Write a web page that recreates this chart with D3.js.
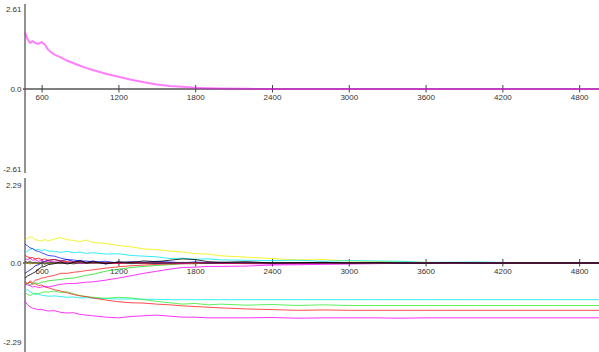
<!DOCTYPE html>
<html>
<head>
<meta charset="utf-8">
<script src="https://cdn.jsdelivr.net/npm/d3@7"></script>
<style>
  html, body { margin: 0; padding: 0; background: #fff; }
  svg { display: block; }
  .tick text { font-family: "Liberation Sans", Arial, sans-serif; font-size: 8px; fill: #333; }
</style>
</head>
<body>
<svg id="chart" width="599" height="352"></svg>
<script>
// Sample positions (iteration) shared by every trace
const steps = [470, 490, 510, 530, 550, 575, 600, 625, 650, 700, 750, 800, 850, 900, 950, 1000,
  1100, 1200, 1300, 1400, 1500, 1600, 1700, 1800, 1900, 2000, 2200, 2400, 2600, 2800, 3000,
  3200, 3400, 3600, 3800, 4000, 4300, 4600, 4955];

// X tick labels
const xTicks = [600, 1200, 1800, 2400, 3000, 3600, 4200, 4800];

// Upper panel: single decaying trace
const upperLimit = 2.61;
const upperTickLabels = ["-2.61", "0.0", "2.61"];
const upperTrace = [1.84, 1.62, 1.5, 1.56, 1.5, 1.47, 1.53, 1.45, 1.28, 1.12, 1.03, 0.92, 0.84, 0.76,
  0.68, 0.62, 0.5, 0.4, 0.3, 0.22, 0.15, 0.1, 0.07, 0.04, 0.025, 0.015, 0.005, 0, 0, 0, 0,
  0, 0, 0, 0, 0, 0, 0, 0];

// Lower panel: traces and their colours
const lowerLimit = 2.29;
const lowerTickLabels = ["-2.29", "0.0", "2.29"];

const yellowA = [0.66, 0.72, 0.76, 0.74, 0.68, 0.66, 0.64, 0.69, 0.64, 0.7, 0.74, 0.68, 0.66, 0.62, 0.67, 0.6,
  0.57, 0.51, 0.47, 0.41, 0.39, 0.35, 0.32, 0.27, 0.26, 0.21, 0.17, 0.13, 0.09, 0.1, 0.06,
  0.05, 0.03, 0.02, 0.01, 0.01, 0, 0, 0];
const cyanA = [0.3, 0.35, 0.4, 0.42, 0.38, 0.4, 0.36, 0.39, 0.35, 0.34, 0.31, 0.34, 0.3, 0.32, 0.28, 0.3,
  0.26, 0.27, 0.22, 0.2, 0.18, 0.13, 0.14, 0.11, 0.12, 0.09, 0.08, 0.07, 0.08, 0.05, 0.07,
  0.06, 0.05, 0.02, 0.02, 0.03, 0.01, 0, 0];
const blueA = [0.55, 0.5, 0.44, 0.42, 0.36, 0.34, 0.3, 0.26, 0.22, 0.2, 0.14, 0.1, 0.09, 0.05, 0.06, 0.03,
  0.05, 0, 0.04, 0.02, 0.05, 0.03, 0.01, 0.03, 0.01, 0.02, 0, 0.01, 0, 0.01, 0,
  0.01, 0, 0, 0, 0, 0, 0, 0];
const blueB = [-0.3, -0.25, -0.2, -0.15, -0.08, -0.05, 0, 0.05, 0.08, 0.1, 0.06, 0.1, 0.04, 0.08, 0.02, 0.06,
  -0.03, 0.03, 0, 0.02, -0.02, 0.01, 0, 0.02, -0.01, 0, 0.01, -0.01, 0, 0, 0.01,
  0, 0, -0.01, 0, 0, 0, 0, 0];
const redA = [0.22, 0.18, 0.15, 0.16, 0.12, 0.14, 0.1, 0.12, 0.08, 0.1, 0.06, 0.04, 0.02, 0.05, 0, 0.02,
  0.01, -0.01, 0.02, 0, 0.01, -0.01, 0, 0.01, 0, 0, -0.01, 0, 0, 0, 0,
  0, 0, 0, 0, 0, 0, 0, 0];
const magentaA = [0.12, 0.1, 0.14, 0.08, 0.1, 0.05, 0.08, 0.03, 0.06, 0.02, 0.04, 0, 0.03, -0.02, 0.02, 0,
  0.02, -0.02, 0.01, -0.01, 0.02, 0, -0.02, 0.01, 0, -0.01, -0.02, -0.03, -0.02, -0.01, -0.01,
  0, -0.01, 0, 0, 0, 0, 0, 0];
const blackA = [-0.44, -0.38, -0.34, -0.3, -0.26, -0.18, -0.12, -0.1, -0.05, -0.02, 0.03, -0.03, 0.02, 0.06, 0, 0.04,
  -0.02, 0.03, 0.02, 0.06, 0.04, 0.08, 0.12, 0.1, 0.04, 0.02, 0.04, 0, 0.01, 0.02, 0,
  0.01, 0, 0, 0.01, 0, 0, 0, 0];
const blackB = [0.05, 0.02, 0.06, 0, 0.03, -0.02, 0.02, -0.04, 0, 0.03, -0.02, 0.01, -0.03, 0.02, -0.01, 0.01,
  0, 0.02, -0.02, 0, 0.01, -0.01, 0.02, 0, -0.01, 0.01, 0, 0, 0.01, 0, 0,
  0, 0, 0, 0, 0, 0, 0, 0];
const yellowB = [-0.02, 0, -0.03, 0.01, -0.02, 0, -0.01, 0.01, -0.02, 0, 0.01, -0.01, 0, 0.01, 0, 0,
  0, 0, 0, 0, 0, 0, 0, 0, 0, 0, 0, 0, 0, 0, 0,
  0, 0, 0, 0, 0, 0, 0, 0];
const redB = [-0.55, -0.6, -0.52, -0.58, -0.5, -0.48, -0.44, -0.42, -0.4, -0.36, -0.3, -0.3, -0.27, -0.25, -0.22, -0.2,
  -0.15, -0.11, -0.08, -0.06, -0.04, -0.03, -0.02, -0.02, 0, -0.01, 0, -0.01, 0, 0, -0.01,
  0, 0, 0, 0, 0, 0, 0, 0];
const greenA = [-0.62, -0.6, -0.64, -0.6, -0.58, -0.6, -0.56, -0.55, -0.52, -0.5, -0.48, -0.45, -0.44, -0.4, -0.36, -0.33,
  -0.24, -0.18, -0.13, -0.1, -0.07, -0.05, -0.02, -0.02, 0, 0.01, 0, 0.02, 0.01, 0, 0.01,
  0, 0, 0, 0, 0, 0, 0, 0];
const magentaB = [-0.62, -0.64, -0.66, -0.7, -0.68, -0.72, -0.7, -0.68, -0.7, -0.66, -0.62, -0.6, -0.6, -0.58, -0.56, -0.55,
  -0.5, -0.44, -0.37, -0.3, -0.24, -0.18, -0.13, -0.12, -0.1, -0.1, -0.09, -0.06, -0.05, -0.04, -0.03,
  -0.02, -0.01, 0, 0, 0, 0, 0, 0];
const cyanB = [-0.8, -0.78, -0.84, -0.88, -0.92, -0.9, -0.94, -0.95, -0.97, -0.96, -0.98, -1.0, -0.99, -1.02, -1.01, -1.03,
  -1.04, -1.05, -1.05, -1.06, -1.06, -1.07, -1.07, -1.07, -1.07, -1.07, -1.07, -1.07, -1.07, -1.07, -1.07,
  -1.07, -1.07, -1.07, -1.07, -1.07, -1.07, -1.07, -1.07];
const greenB = [-0.85, -0.92, -0.95, -0.9, -0.88, -0.9, -0.86, -0.84, -0.85, -0.82, -0.86, -0.84, -0.9, -0.95, -0.98, -1.0,
  -1.03, -1.0, -1.02, -1.07, -1.12, -1.16, -1.2, -1.18, -1.22, -1.2, -1.23, -1.21, -1.24, -1.22, -1.24,
  -1.24, -1.24, -1.24, -1.24, -1.24, -1.24, -1.24, -1.24];
const redC = [-0.58, -0.6, -0.56, -0.62, -0.6, -0.66, -0.64, -0.7, -0.72, -0.78, -0.82, -0.87, -0.92, -0.96, -0.98, -1.02,
  -1.08, -1.13, -1.16, -1.17, -1.2, -1.22, -1.25, -1.27, -1.29, -1.31, -1.34, -1.36, -1.38, -1.37, -1.38,
  -1.38, -1.38, -1.38, -1.38, -1.38, -1.38, -1.38, -1.38];
const magentaC = [-1.12, -1.22, -1.28, -1.32, -1.34, -1.36, -1.35, -1.38, -1.4, -1.39, -1.44, -1.46, -1.45, -1.5, -1.52, -1.54,
  -1.58, -1.6, -1.56, -1.54, -1.52, -1.55, -1.58, -1.58, -1.6, -1.6, -1.6, -1.59, -1.61, -1.6, -1.6,
  -1.6, -1.61, -1.6, -1.6, -1.6, -1.6, -1.6, -1.6];

const lowerTraces = [
  { values: cyanB, color: "#00f0f0" },
  { values: greenB, color: "#33ee33" },
  { values: redC, color: "#ff2020" },
  { values: magentaC, color: "#ff00ff" },
  { values: yellowA, color: "#f0f000" },
  { values: cyanA, color: "#00e8f0" },
  { values: greenA, color: "#22dd22" },
  { values: magentaB, color: "#ff00ff" },
  { values: redB, color: "#ff2020" },
  { values: yellowB, color: "#b0a000" },
  { values: magentaA, color: "#ee00ee" },
  { values: blueA, color: "#2020ff" },
  { values: blueB, color: "#0000c0" },
  { values: redA, color: "#ff0000" },
  { values: blackB, color: "#404040" },
  { values: blackA, color: "#000000" }
];

const svg = d3.select("#chart");
const W = 599;
const axisX = 25;

const x = d3.scaleLinear().domain([470, 4955]).range([axisX, W]);

function drawPanel(opts) {
  const g = svg.append("g");
  const y = d3.scaleLinear().domain([-opts.limit, opts.limit]).range(opts.yRange);

  // vertical axis line
  g.append("line")
    .attr("x1", axisX).attr("x2", axisX)
    .attr("y1", opts.axisTop).attr("y2", opts.axisBottom)
    .attr("stroke", "#777").attr("stroke-width", 1.6);

  // y labels
  const yAxis = d3.axisLeft(y)
    .tickValues([-opts.limit, 0, opts.limit])
    .tickSize(0).tickPadding(3)
    .tickFormat((d, i) => opts.yLabels[i]);
  const ya = g.append("g").attr("transform", `translate(${axisX - 0.5},0)`).call(yAxis);
  ya.select(".domain").remove();

  // zero line with x ticks
  g.append("line")
    .attr("x1", axisX - 2).attr("x2", W)
    .attr("y1", y(0)).attr("y2", y(0))
    .attr("stroke", "#555").attr("stroke-width", 1.6);

  const xAxis = d3.axisBottom(x).tickValues(xTicks).tickSize(3).tickPadding(2).tickFormat(d3.format("d"));
  const xa = g.append("g").attr("transform", `translate(0,${y(0)})`).call(xAxis);
  xa.select(".domain").remove();
  xa.selectAll(".tick line").attr("y1", -4).attr("y2", 3.5).attr("stroke", "#444");

  // traces
  const line = d3.line().x((d, i) => x(steps[i])).y(d => y(d));
  opts.traces.forEach(t => {
    g.append("path")
      .attr("d", line(t.values))
      .attr("fill", "none")
      .attr("stroke", t.color)
      .attr("stroke-width", t.width || 1)
      .attr("stroke-opacity", t.opacity || 0.8)
      .attr("stroke-linejoin", "round");
  });
}

drawPanel({
  limit: upperLimit,
  yRange: [169, 9],
  axisTop: 4, axisBottom: 173,
  yLabels: upperTickLabels,
  traces: [{ values: upperTrace, color: "#ff00ff", width: 2, opacity: 0.5 }]
});

drawPanel({
  limit: lowerLimit,
  yRange: [341.5, 184.5],
  axisTop: 178, axisBottom: 352,
  yLabels: lowerTickLabels,
  traces: lowerTraces
});
</script>
</body>
</html>
